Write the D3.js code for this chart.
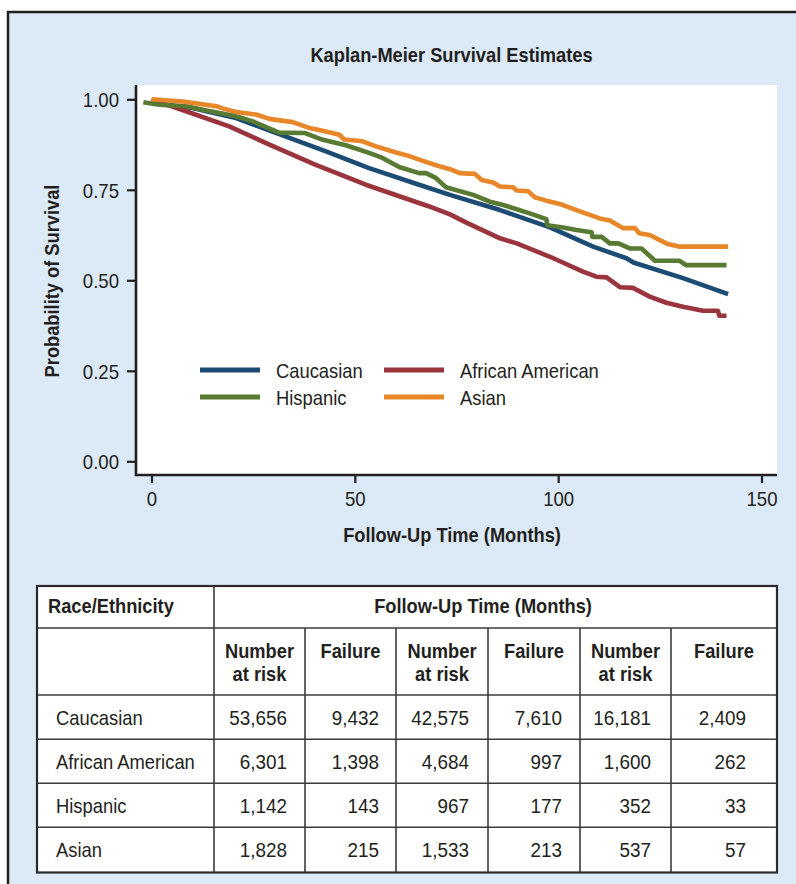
<!DOCTYPE html>
<html>
<head>
<meta charset="utf-8">
<script src="https://cdn.jsdelivr.net/npm/d3@7/dist/d3.min.js"></script>
<style>
  html, body { margin: 0; padding: 0; background: #ffffff; }
  svg { display: block; }
  text { font-family: "Liberation Sans", Arial, Helvetica, sans-serif; fill: #231f20; }
</style>
</head>
<body>
<svg id="chart" width="796" height="884"></svg>
<script>
// ---------------- DATA ----------------
const chartTitle = "Kaplan-Meier Survival Estimates";
const xAxisTitle = "Follow-Up Time (Months)";
const yAxisTitle = "Probability of Survival";
const xTickValues = [0, 50, 100, 150];
const yTickValues = [0, 0.25, 0.5, 0.75, 1];

const seriesNames = ["Caucasian", "African American", "Hispanic", "Asian"];

// [month, survival probability]
const caucasianCurve = [
  [0, 0.99], [10, 0.976], [20.8, 0.948], [31.4, 0.904], [42.9, 0.856],
  [53.5, 0.810], [65.8, 0.764], [73.4, 0.736], [85.7, 0.694], [98, 0.646],
  [108.6, 0.593], [116.8, 0.561], [118.5, 0.549], [130.7, 0.506], [141.8, 0.462]
];
const africanAmericanCurve = [
  [0, 1.0], [8.5, 0.967], [19.1, 0.925], [29, 0.875], [40.4, 0.819],
  [52.7, 0.764], [68.3, 0.704], [73.4, 0.682], [77.3, 0.660], [85.7, 0.616],
  [89.8, 0.602], [98, 0.565], [106.1, 0.524], [109.4, 0.510], [111.9, 0.508],
  [115.2, 0.481], [118.4, 0.479], [122.5, 0.455], [126.6, 0.438], [130.7, 0.427],
  [135.6, 0.416], [139.3, 0.416], [139.6, 0.402], [141.4, 0.402]
];
const hispanicCurve = [
  [-2, 0.992], [1.9, 0.985], [8.5, 0.981], [12.6, 0.971], [20.8, 0.953],
  [24.9, 0.939], [31.4, 0.908], [37.6, 0.907], [42.1, 0.888], [47.8, 0.873],
  [53.5, 0.852], [56.8, 0.838], [60.9, 0.813], [65.8, 0.796], [67.5, 0.796],
  [69.9, 0.783], [72.4, 0.757], [79.1, 0.736], [83.2, 0.717], [86.5, 0.708],
  [93, 0.685], [97.1, 0.669], [97.3, 0.652], [101.2, 0.646], [104.5, 0.639],
  [108.2, 0.633], [108.4, 0.620], [110.7, 0.620], [112.7, 0.602], [114.8, 0.602],
  [117.6, 0.588], [120.5, 0.588], [123.8, 0.554], [129.9, 0.554], [131.4, 0.542],
  [141.4, 0.542]
];
const asianCurve = [
  [0, 1.0], [7.7, 0.994], [15.9, 0.981], [17.5, 0.975], [20.8, 0.965],
  [25.7, 0.958], [29, 0.946], [34.7, 0.937], [38.8, 0.921], [42.1, 0.913],
  [46.2, 0.902], [47.4, 0.889], [51.9, 0.884], [55.2, 0.870], [59.3, 0.856],
  [63.4, 0.843], [66.7, 0.830], [70.8, 0.815], [73.4, 0.807], [75.8, 0.796],
  [79.5, 0.794], [81.2, 0.777], [84, 0.770], [85.7, 0.759], [88.9, 0.757],
  [89.8, 0.748], [92.6, 0.746], [94.3, 0.729], [97.1, 0.720], [100.4, 0.711],
  [104.5, 0.694], [110.2, 0.671], [112.7, 0.665], [116, 0.644], [118.9, 0.644],
  [119.9, 0.630], [122.5, 0.625], [127, 0.600], [129.9, 0.593], [141.8, 0.593]
];
const seriesCurves = [caucasianCurve, africanAmericanCurve, hispanicCurve, asianCurve];

// Table
const tableRowHeader = "Race/Ethnicity";
const tableGroupHeader = "Follow-Up Time (Months)";
const tableColumnHeaders = ["Number\nat risk", "Failure", "Number\nat risk", "Failure", "Number\nat risk", "Failure"];
const tableCaucasian = [53656, 9432, 42575, 7610, 16181, 2409];
const tableAfricanAmerican = [6301, 1398, 4684, 997, 1600, 262];
const tableHispanic = [1142, 143, 967, 177, 352, 33];
const tableAsian = [1828, 215, 1533, 213, 537, 57];
const tableRows = [tableCaucasian, tableAfricanAmerican, tableHispanic, tableAsian];

// ---------------- STYLE / LAYOUT ----------------
const seriesColors = ["#1c4b74", "#9a343d", "#587a33", "#e8872a"];
const ink = "#231f20";
const panelBg = "#dce9f6";
const SX_REG = 0.875, SX_BOLD = 0.87, SX_NUM = 0.9;

const svg = d3.select("#chart");

function label(g, x, y, s, o = {}) {
  const t = g.append("text")
    .attr("transform", `translate(${x},${y}) rotate(${o.rotate || 0}) scale(${o.sx || SX_REG},1)`)
    .attr("text-anchor", o.anchor || "start")
    .style("font-size", (o.size || 21) + "px")
    .style("font-weight", o.weight || "normal")
    .text(s);
  return t;
}

// Panel frame
svg.append("rect").attr("x", 8).attr("y", 12).attr("width", 800).attr("height", 890)
  .attr("fill", panelBg).attr("stroke", ink).attr("stroke-width", 2.5);

// Plot area
const plot = { left: 136, top: 85, right: 777, bottom: 475 };
svg.append("rect").attr("x", plot.left).attr("y", plot.top)
  .attr("width", plot.right - plot.left).attr("height", plot.bottom - plot.top)
  .attr("fill", "#ffffff");

const x = d3.scaleLinear().domain([0, 150]).range([151.5, 761.5]);
const y = d3.scaleLinear().domain([0, 1]).range([461.3, 99.3]);

// Title
label(svg, 451.5, 62, chartTitle, { anchor: "middle", weight: "bold", sx: SX_BOLD });

// Axes
const yAxis = d3.axisLeft(y).tickValues(yTickValues).tickFormat(d3.format(".2f"))
  .tickSize(9).tickSizeOuter(0);
const gy = svg.append("g").attr("transform", `translate(${plot.left},0)`).call(yAxis);
gy.select(".domain").remove();
gy.selectAll(".tick line").attr("stroke", ink).attr("stroke-width", 2.2);
gy.selectAll(".tick text")
  .attr("x", null).attr("dy", "0.36em")
  .attr("transform", `translate(-17,0) scale(0.93,1)`)
  .attr("fill", ink).style("font-size", "20px")
  .style("font-family", '"Liberation Sans", Arial, sans-serif');

const xAxis = d3.axisBottom(x).tickValues(xTickValues).tickFormat(d3.format("d"))
  .tickSize(8).tickSizeOuter(0);
const gx = svg.append("g").attr("transform", `translate(0,${plot.bottom})`).call(xAxis);
gx.select(".domain").remove();
gx.selectAll(".tick line").attr("stroke", ink).attr("stroke-width", 2.2);
gx.selectAll(".tick text")
  .attr("y", null).attr("dy", null)
  .attr("transform", `translate(0,31) scale(0.93,1)`)
  .attr("fill", ink).style("font-size", "20px")
  .style("font-family", '"Liberation Sans", Arial, sans-serif');

// Axis lines (L shape)
svg.append("path")
  .attr("d", `M${plot.left},${plot.top}V${plot.bottom}H${plot.right}`)
  .attr("fill", "none").attr("stroke", ink).attr("stroke-width", 2.6);

label(svg, 452, 542, xAxisTitle, { anchor: "middle", weight: "bold", sx: SX_BOLD });
label(svg, 59, 281, yAxisTitle, { anchor: "middle", weight: "bold", sx: SX_BOLD, rotate: -90 });

// Curves
const line = d3.line().x(d => x(d[0])).y(d => y(d[1])).curve(d3.curveLinear);
const curvesG = svg.append("g");
const drawOrder = [0, 1, 2, 3];
drawOrder.forEach(i => {
  curvesG.append("path")
    .attr("d", line(seriesCurves[i]))
    .attr("fill", "none")
    .attr("stroke", seriesColors[i])
    .attr("stroke-width", 4.6)
    .attr("stroke-linejoin", "round");
});

// Legend
const legendPos = [
  { x: 200, y: 370 }, { x: 384, y: 370 },
  { x: 200, y: 397 }, { x: 384, y: 397 }
];
seriesNames.forEach((name, i) => {
  const p = legendPos[i];
  svg.append("line").attr("x1", p.x).attr("x2", p.x + 60).attr("y1", p.y).attr("y2", p.y)
    .attr("stroke", seriesColors[i]).attr("stroke-width", 5);
  label(svg, p.x + 76, p.y + 7.5, name, {});
});

// ---------------- TABLE ----------------
const colEdges = [37, 214, 305, 396, 488, 580, 671, 777];
const rowEdges = [586, 628, 695, 739.3, 783.3, 827.3, 872.5];
const rightPad = [18, 17, 19, 18, 20, 31];
const tg = svg.append("g");
tg.append("rect").attr("x", colEdges[0]).attr("y", rowEdges[0])
  .attr("width", colEdges[7] - colEdges[0]).attr("height", rowEdges[6] - rowEdges[0])
  .attr("fill", "#ffffff");
// horizontal lines
rowEdges.slice(1, 6).forEach(ry => {
  tg.append("line").attr("x1", colEdges[0]).attr("x2", colEdges[7]).attr("y1", ry).attr("y2", ry)
    .attr("stroke", "#3b3b3b").attr("stroke-width", 1.6);
});
// vertical lines
colEdges.slice(1, 7).forEach((cx, i) => {
  tg.append("line").attr("x1", cx).attr("x2", cx)
    .attr("y1", i === 0 ? rowEdges[0] : rowEdges[1]).attr("y2", rowEdges[6])
    .attr("stroke", "#3b3b3b").attr("stroke-width", 1.6);
});
tg.append("rect").attr("x", colEdges[0]).attr("y", rowEdges[0])
  .attr("width", colEdges[7] - colEdges[0]).attr("height", rowEdges[6] - rowEdges[0])
  .attr("fill", "none").attr("stroke", "#2a2a2a").attr("stroke-width", 2.2);

label(tg, 48, 613, tableRowHeader, { weight: "bold", sx: SX_BOLD });
label(tg, 483, 613, tableGroupHeader, { anchor: "middle", weight: "bold", sx: SX_BOLD });

tableColumnHeaders.forEach((h, c) => {
  const cx = (colEdges[c + 1] + colEdges[c + 2]) / 2;
  h.split("\n").forEach((ln, k) => {
    label(tg, cx, 658 + k * 23, ln, { anchor: "middle", weight: "bold", sx: SX_BOLD });
  });
});

const fmt = d3.format(",");
tableRows.forEach((row, r) => {
  const base = rowEdges[r + 2] + 30;
  label(tg, 56, base, seriesNames[r], {});
  row.forEach((v, c) => {
    label(tg, colEdges[c + 2] - rightPad[c], base, fmt(v), { anchor: "end", sx: SX_NUM });
  });
});
</script>
</body>
</html>
